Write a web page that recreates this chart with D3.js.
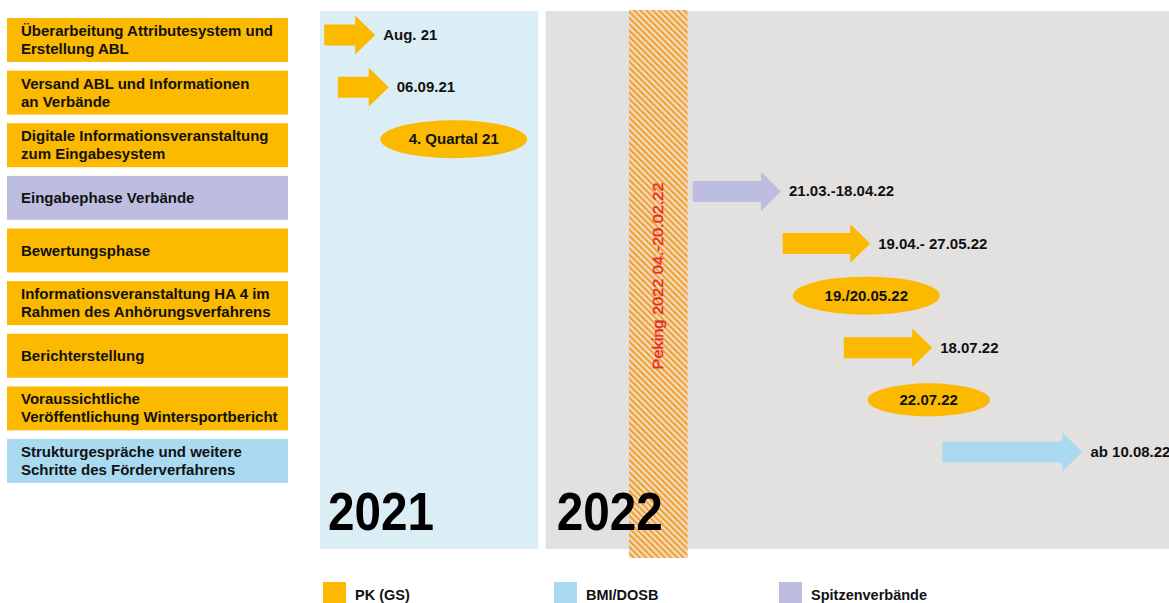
<!DOCTYPE html>
<html>
<head>
<meta charset="utf-8">
<script src="https://cdn.jsdelivr.net/npm/d3@7"></script>
<style>
  html, body { margin: 0; padding: 0; background: #ffffff; }
  svg { display: block; font-family: "Liberation Sans", Arial, sans-serif; }
</style>
</head>
<body>
<svg id="chart" width="1169" height="603"></svg>
<script>
// ---------------- data ----------------
const tasks = [
  "Überarbeitung Attributesystem und\nErstellung ABL",
  "Versand ABL und Informationen\nan Verbände",
  "Digitale Informationsveranstaltung\nzum Eingabesystem",
  "Eingabephase Verbände",
  "Bewertungsphase",
  "Informationsveranstaltung HA 4 im\nRahmen des Anhörungsverfahrens",
  "Berichterstellung",
  "Voraussichtliche\nVeröffentlichung Wintersportbericht",
  "Strukturgespräche und weitere\nSchritte des Förderverfahrens"
];
const taskGroups = ["PK (GS)", "PK (GS)", "PK (GS)", "Spitzenverbände", "PK (GS)", "PK (GS)", "PK (GS)", "PK (GS)", "BMI/DOSB"];
const markLabels = ["Aug. 21", "06.09.21", "4. Quartal 21", "21.03.-18.04.22", "19.04.- 27.05.22", "19./20.05.22", "18.07.22", "22.07.22", "ab 10.08.22"];
const markTypes = ["arrow", "arrow", "ellipse", "arrow", "arrow", "ellipse", "arrow", "ellipse", "arrow"];
// schematic timeline position (0–100) where each mark starts / ends
const markStart = [0.5, 2.1, 7.1, 43.9, 54.5, 55.7, 61.7, 64.5, 73.3];
const markEnd   = [6.5, 8.1, 24.4, 54.3, 64.8, 73.0, 72.1, 78.9, 89.8];
const years = ["2021", "2022"];
const yearStart = [0, 26.6];
const yearEnd = [25.7, 100];
const eventLabel = "Peking 2022 04.-20.02.22";
const eventStart = 36.4;
const eventEnd = 43.3;
const legendItems = ["PK (GS)", "BMI/DOSB", "Spitzenverbände"];

// ---------------- styles / layout ----------------
const groupColor = d3.scaleOrdinal().domain(legendItems).range(["#FBB900", "#A9DAF2", "#BDBDE0"]);
const yearColor = d3.scaleOrdinal().domain(years).range(["#DBEEF6", "#E2E1E0"]);

const svg = d3.select("#chart");
const x = d3.scaleLinear().domain([0, 100]).range([320, 1169]);
const yBox = d3.scaleBand().domain(tasks).range([18, 483]).paddingInner(0.165).paddingOuter(0);
const yMark = d3.scalePoint().domain(tasks).range([35, 452]);
const panelTop = 11, panelBottom = 549;

// hatch pattern
const defs = svg.append("defs");
const pat = defs.append("pattern")
  .attr("id", "hatch").attr("patternUnits", "userSpaceOnUse")
  .attr("width", 4.4).attr("height", 4.4)
  .attr("patternTransform", "rotate(-45)");
pat.append("rect").attr("width", 4.4).attr("height", 4.4).attr("fill", "#F2DCC2");
pat.append("rect").attr("width", 2.1).attr("height", 4.4).attr("fill", "#F0A030");

// year panels
const yearData = years.map((y, i) => ({ y, s: yearStart[i], e: yearEnd[i] }));
svg.append("g").selectAll("rect").data(yearData).join("rect")
  .attr("x", d => x(d.s)).attr("y", panelTop)
  .attr("width", d => x(d.e) - x(d.s)).attr("height", panelBottom - panelTop)
  .attr("fill", d => yearColor(d.y));

// event strip
svg.append("rect")
  .attr("x", x(eventStart)).attr("y", panelTop - 1)
  .attr("width", x(eventEnd) - x(eventStart)).attr("height", panelBottom - panelTop + 10)
  .attr("fill", "url(#hatch)");

// year labels
svg.append("g").selectAll("text").data(yearData).join("text")
  .attr("x", (d, i) => x(d.s) + 8 + i * 3).attr("y", panelBottom - 19)
  .attr("font-size", 53).attr("font-weight", "bold").attr("fill", "#000")
  .attr("textLength", 106).attr("lengthAdjust", "spacingAndGlyphs")
  .text(d => d.y);

// event label (vertical)
const evX = (x(eventStart) + x(eventEnd)) / 2;
svg.append("text")
  .attr("transform", `translate(${evX + 5},276) rotate(-90)`)
  .attr("text-anchor", "middle")
  .attr("font-size", 15).attr("fill", "#E8282A")
  .attr("stroke", "#E8282A").attr("stroke-width", 0.35)
  .attr("textLength", 187).attr("lengthAdjust", "spacingAndGlyphs")
  .text(eventLabel);

// task boxes
const taskData = tasks.map((t, i) => ({ t, g: taskGroups[i], lines: t.split("\n") }));
const boxG = svg.append("g").selectAll("g").data(taskData).join("g");
boxG.append("rect")
  .attr("x", 7).attr("y", d => yBox(d.t))
  .attr("width", 281).attr("height", yBox.bandwidth())
  .attr("fill", d => groupColor(d.g));
boxG.each(function (d) {
  const cy = yBox(d.t) + yBox.bandwidth() / 2;
  const n = d.lines.length;
  d3.select(this).selectAll("text").data(d.lines).join("text")
    .attr("x", 21)
    .attr("y", (l, i) => cy + 5 + (i - (n - 1) / 2) * 18)
    .attr("font-size", 15).attr("font-weight", "bold").attr("fill", "#111")
    .text(l => l);
});

// marks
const markData = tasks.map((t, i) => ({
  t, g: taskGroups[i], label: markLabels[i], type: markTypes[i], s: markStart[i], e: markEnd[i]
}));
const headLen = 20, shaftH = 10.5, headH = 19.5;
const markG = svg.append("g").selectAll("g").data(markData).join("g");
markG.filter(d => d.type === "arrow").append("path")
  .attr("d", d => {
    const x0 = x(d.s), x1 = x(d.e), cy = yMark(d.t), xb = x1 - headLen;
    return `M${x0},${cy - shaftH}L${xb},${cy - shaftH}L${xb},${cy - headH}L${x1},${cy}` +
      `L${xb},${cy + headH}L${xb},${cy + shaftH}L${x0},${cy + shaftH}Z`;
  })
  .attr("fill", d => groupColor(d.g));
markG.filter(d => d.type === "arrow").append("text")
  .attr("x", d => x(d.e) + 8).attr("y", d => yMark(d.t) + 5)
  .attr("font-size", 15).attr("font-weight", "bold").attr("fill", "#111")
  .text(d => d.label);
markG.filter(d => d.type === "ellipse").append("ellipse")
  .attr("cx", d => (x(d.s) + x(d.e)) / 2).attr("cy", d => yMark(d.t))
  .attr("rx", d => (x(d.e) - x(d.s)) / 2)
  .attr("ry", d => Math.min(19, (x(d.e) - x(d.s)) / 2 * 0.27))
  .attr("fill", d => groupColor(d.g));
markG.filter(d => d.type === "ellipse").append("text")
  .attr("x", d => (x(d.s) + x(d.e)) / 2).attr("y", d => yMark(d.t) + 5)
  .attr("text-anchor", "middle")
  .attr("font-size", 15).attr("font-weight", "bold").attr("fill", "#111")
  .text(d => d.label);

// legend
const lg = svg.append("g").selectAll("g").data(legendItems).join("g")
  .attr("transform", (d, i) => `translate(${[323, 554, 779][i]},582)`);
lg.append("rect").attr("width", 23).attr("height", 24).attr("fill", d => groupColor(d));
lg.append("text").attr("x", 32).attr("y", 18)
  .attr("font-size", 14.5).attr("font-weight", "bold").attr("fill", "#111")
  .text(d => d);
</script>
</body>
</html>
